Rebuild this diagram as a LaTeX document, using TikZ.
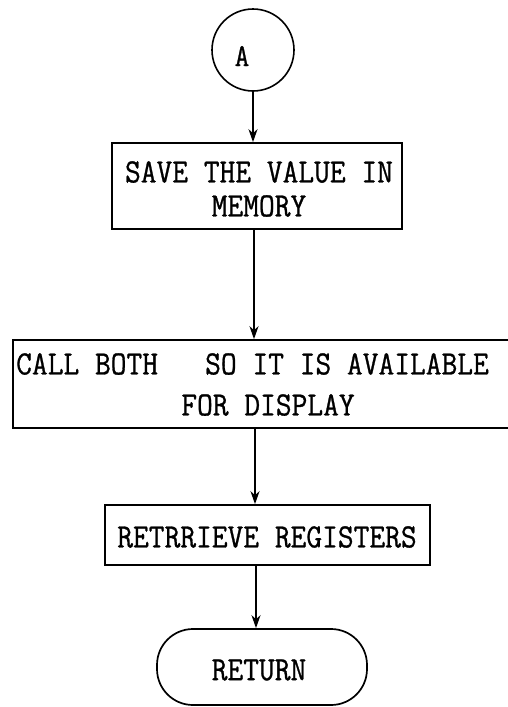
\documentclass[tikz,border=0pt]{standalone}
\usepackage{fontspec}
\setmonofont{Latin Modern Mono}[FakeStretch=0.9,FakeBold=0.8]
\usetikzlibrary{arrows.meta}
\begin{document}
\begin{tikzpicture}[x=1pt,y=-1pt,
  arr/.style={line width=2pt,-{Stealth[length=13pt,width=9pt]}},
  txt/.style={inner sep=0pt,font=\ttfamily\fontsize{34}{34}\selectfont},
  boxshape/.style={draw,line width=1.7pt,rectangle,inner sep=0pt}]
\useasboundingbox (0,0) rectangle (508,707);
\fill[white] (0,0) rectangle (508,707);
\clip (0,0) rectangle (508,707);
% connector circle
\node[circle,draw,line width=1.6pt,minimum size=82pt,inner sep=0pt] (A) at (253,50) {};
\node[inner sep=0pt,font=\ttfamily\fontsize{32}{32}\selectfont] (Alab) at (242,56) {A};
% box 1
\node[boxshape,minimum width=290pt,minimum height=86pt] (b1) at (257,186) {};
\node[txt] (t1a) at (259,172) {SAVE THE VALUE IN};
\node[txt] (t1b) at (259,206) {MEMORY};
% box 2 (right side runs off the page)
\node[boxshape,minimum width=507pt,minimum height=88pt] (b2) at (266.5,384) {};
\node[txt,anchor=west] (t2a) at (16,364) {CALL BOTH};
\node[txt] (t2b) at (347,364) {SO IT IS AVAILABLE};
\node[txt] (t2d) at (268,405) {FOR DISPLAY};
% box 3
\node[boxshape,minimum width=325pt,minimum height=60pt] (b3) at (267.5,535) {};
\node[txt] (t3) at (267,537) {RETRRIEVE REGISTERS};
% terminal
\node[draw,line width=1.7pt,rectangle,rounded corners=36pt,inner sep=0pt,
      minimum width=210pt,minimum height=76pt] (ret) at (262,667) {};
\node[txt] (t4) at (259,670) {RETURN};
% connectors
\draw[arr] (A.south) -- (A.south |- b1.north);
\draw[arr] ([xshift=1pt]A.south |- b1.south) -- ([xshift=1pt]A.south |- b2.north);
\draw[arr] ([xshift=2pt]A.south |- b2.south) -- ([xshift=2pt]A.south |- b3.north);
\draw[arr] ([xshift=3pt]A.south |- b3.south) -- ([xshift=3pt]A.south |- ret.north);
\end{tikzpicture}
\end{document}
